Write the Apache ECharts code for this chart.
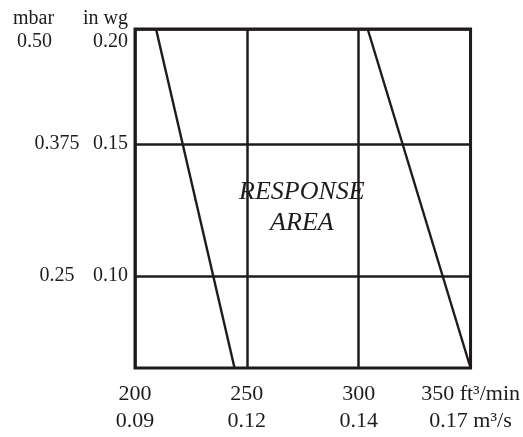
<!DOCTYPE html>
<html>
<head>
<meta charset="utf-8">
<script src="https://cdn.jsdelivr.net/npm/echarts@6/dist/echarts.min.js"></script>
<style>
  html, body { margin: 0; padding: 0; background: #fff; }
  #chart { width: 523px; height: 437px; }
</style>
</head>
<body>
<div id="chart"></div>
<script>
// Pressure axis range (in wg); the diagram is schematic, the top edge carries the 0.20 label
const Y_MIN = 0.0652;
const Y_MAX = 0.1936;

// Flow ticks (ft³/min) and their metric equivalents (m³/s)
const cfmTicks = [200, 250, 300, 350];
const cfmLabels = ['200', '250', '300', '350 ft³/min'];
const m3sLabels = ['0.09', '0.12', '0.14', '0.17 m³/s'];

// Pressure ticks
const pressureTicks = [0.10, 0.15, Y_MAX];
const inwgLabels = ['0.10', '0.15', '0.20'];
const mbarLabels = ['0.25', '0.375', '0.50'];

// Limit lines bounding the response area: [flow ft³/min, pressure in wg]
const leftLimit = [[209.4, Y_MAX], [244.5, Y_MIN]];
const rightLimit = [[304, Y_MAX], [350, Y_MIN]];

// Where the area caption sits
const captionPoint = [[274.6, 0.1258]];

const INK = '#1f1b1c';
const FONT = '"Liberation Serif", "DejaVu Serif", serif';

function tickIndex(list, v) {
  let best = 0;
  list.forEach((t, i) => { if (Math.abs(t - v) < Math.abs(list[best] - v)) best = i; });
  return best;
}

const chart = echarts.init(document.getElementById('chart'), null, { renderer: 'canvas' });

chart.setOption({
  animation: false,
  backgroundColor: '#fff',
  grid: {
    left: 135, right: 52, top: 29, bottom: 69,
    show: true, borderColor: INK, borderWidth: 3, backgroundColor: 'transparent'
  },
  xAxis: [
    {
      type: 'value', min: 200, max: 350, interval: 50, position: 'bottom',
      axisLine: { show: false }, axisTick: { show: false },
      splitLine: { show: true, lineStyle: { color: INK, width: 2.5 } },
      axisLabel: {
        margin: 15, color: INK, fontFamily: FONT, fontSize: 22,
        showMinLabel: true, showMaxLabel: true,
        formatter: v => cfmLabels[tickIndex(cfmTicks, v)]
      }
    },
    {
      type: 'value', min: 200, max: 350, interval: 50, position: 'bottom', offset: 27,
      axisLine: { show: false }, axisTick: { show: false }, splitLine: { show: false },
      axisLabel: {
        margin: 15, color: INK, fontFamily: FONT, fontSize: 22,
        showMinLabel: true, showMaxLabel: true,
        formatter: v => m3sLabels[tickIndex(cfmTicks, v)]
      }
    }
  ],
  yAxis: [
    {
      type: 'value', min: Y_MIN, max: Y_MAX, position: 'left',
      name: 'in wg', nameLocation: 'end', nameGap: 0,
      nameTextStyle: { color: INK, fontFamily: FONT, fontSize: 20, align: 'right', padding: [0, 7, 0, 0] },
      axisLine: { show: false },
      axisTick: { show: false, customValues: pressureTicks },
      splitLine: { show: true, lineStyle: { color: INK, width: 2.5 } },
      axisLabel: {
        customValues: pressureTicks, margin: 7, color: INK, fontFamily: FONT, fontSize: 20,
        showMinLabel: true, showMaxLabel: true,
        formatter: v => {
          const i = tickIndex(pressureTicks, v);
          return i === pressureTicks.length - 1 ? '{top|' + inwgLabels[i] + '}' : inwgLabels[i];
        },
        rich: { top: { color: INK, fontFamily: FONT, fontSize: 20, padding: [26, 0, 0, 0] } }
      }
    },
    {
      type: 'value', min: Y_MIN, max: Y_MAX, position: 'left',
      name: 'mbar', nameLocation: 'end', nameGap: 0,
      nameTextStyle: { color: INK, fontFamily: FONT, fontSize: 20, align: 'center', padding: [0, 203, 0, 0] },
      axisLine: { show: false },
      axisTick: { show: false, customValues: pressureTicks },
      splitLine: { show: false },
      axisLabel: {
        customValues: pressureTicks, margin: 78, align: 'center', color: INK, fontFamily: FONT, fontSize: 20,
        showMinLabel: true, showMaxLabel: true,
        formatter: v => {
          const i = tickIndex(pressureTicks, v);
          return i === pressureTicks.length - 1 ? '{top|' + mbarLabels[i] + '}' : mbarLabels[i];
        },
        rich: { top: { color: INK, fontFamily: FONT, fontSize: 20, padding: [26, 45, 0, 0] } }
      }
    }
  ],
  series: [
    {
      type: 'line', data: leftLimit, symbol: 'none', silent: true,
      lineStyle: { color: INK, width: 2.4 }
    },
    {
      type: 'line', data: rightLimit, symbol: 'none', silent: true,
      lineStyle: { color: INK, width: 2.4 }
    },
    {
      type: 'scatter', data: captionPoint, symbolSize: 0, silent: true,
      itemStyle: { opacity: 1 },
      label: {
        show: true, position: 'inside', formatter: 'RESPONSE\nAREA',
        color: INK, opacity: 1, fontFamily: FONT, fontStyle: 'italic', fontSize: 26, lineHeight: 31, align: 'center'
      }
    }
  ]
});
</script>
</body>
</html>
